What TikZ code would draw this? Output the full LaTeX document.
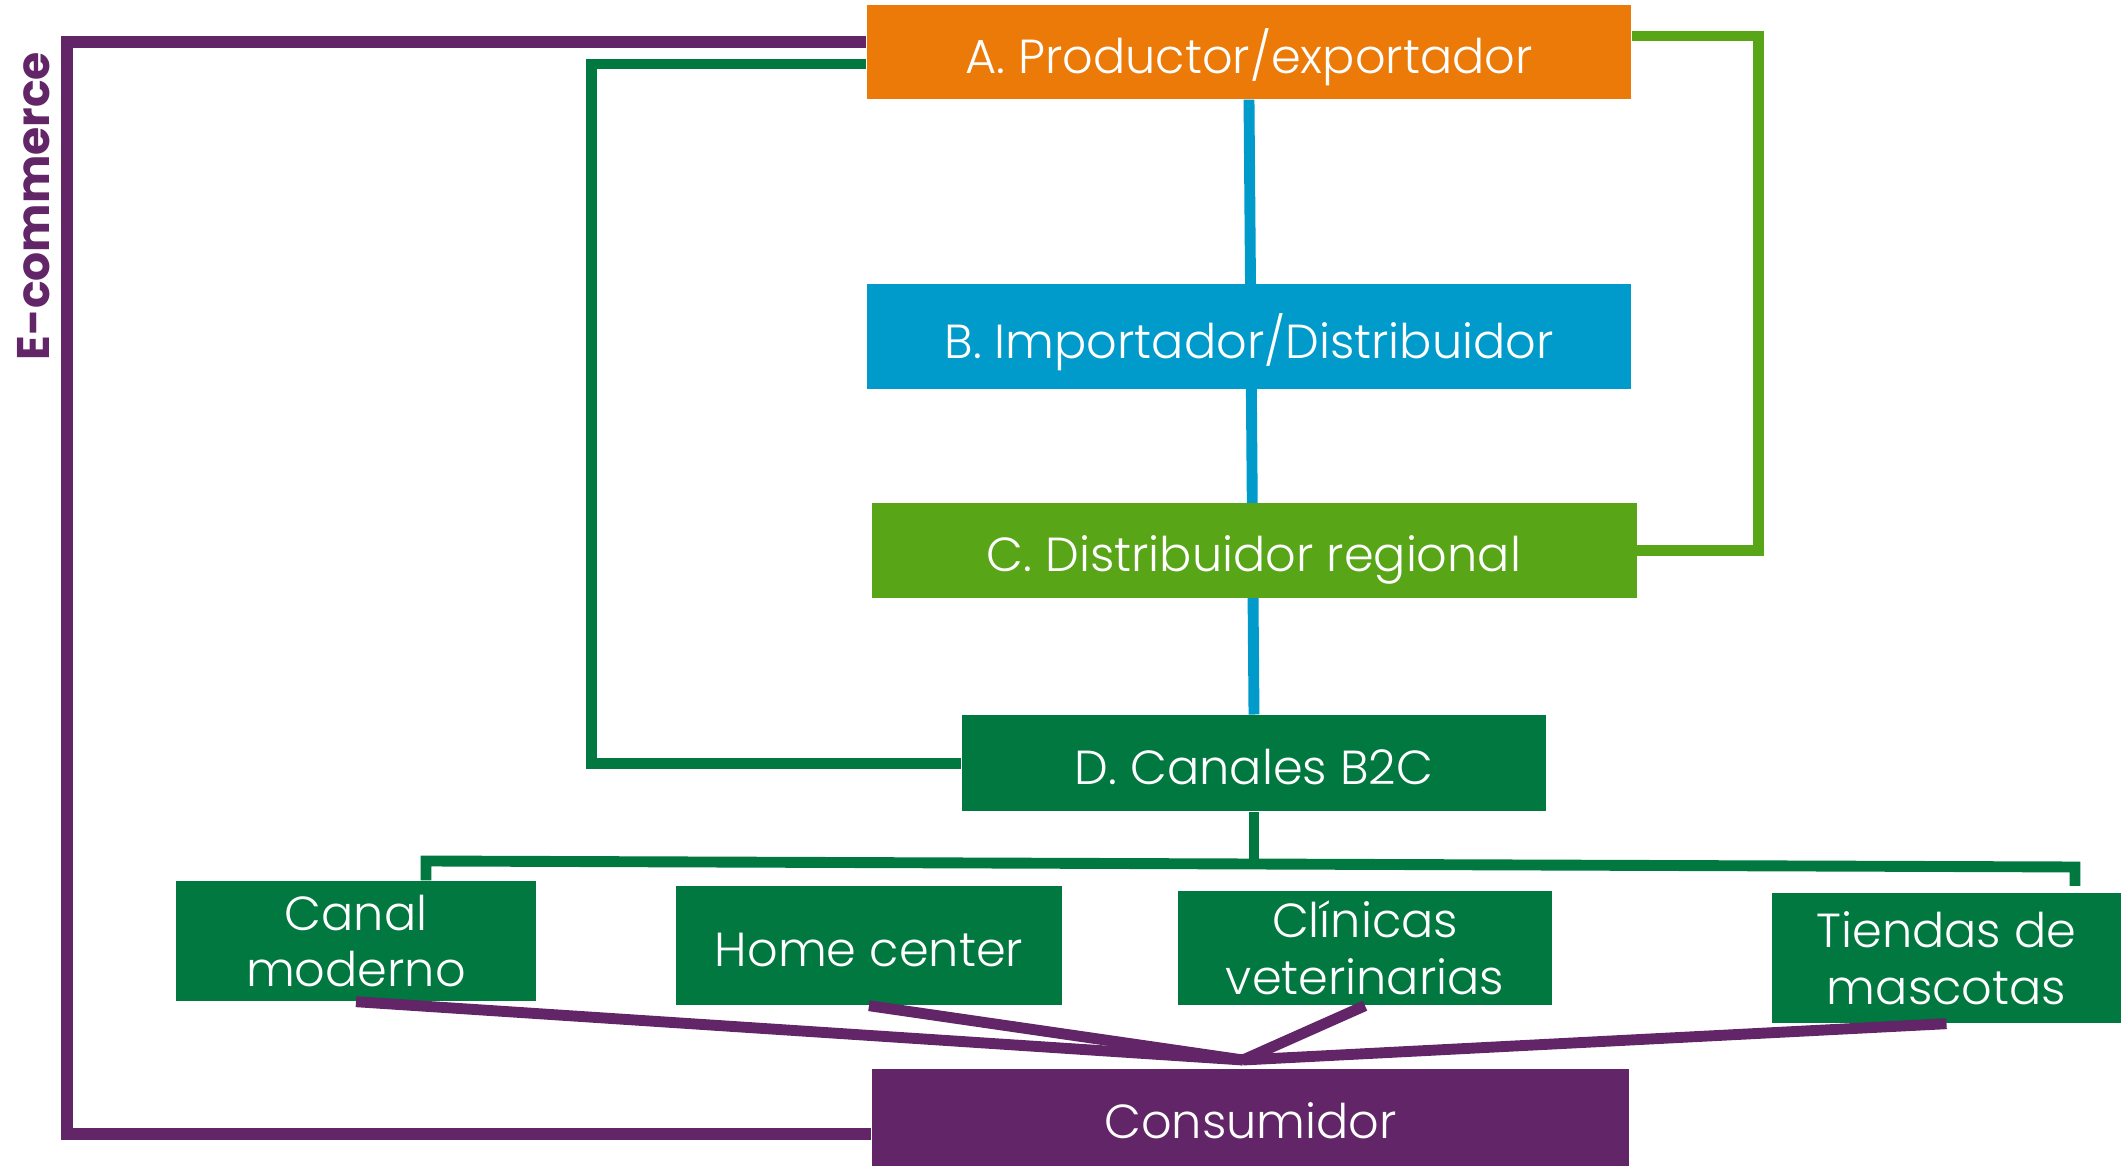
\documentclass[tikz,border=0pt]{standalone}
\usepackage{fontspec}
\setmainfont{Poppins}[UprightFont={* Light}, BoldFont={* Bold}]
\usepackage{xcolor}
\usepackage{tikz}
\usetikzlibrary{positioning,backgrounds}
\definecolor{prodOrange}{HTML}{EC7A08}
\definecolor{impBlue}{HTML}{009BCB}
\definecolor{regGreen}{HTML}{59A518}
\definecolor{chanGreen}{HTML}{00783F}
\definecolor{ecPurple}{HTML}{622567}

\begin{document}
\begin{tikzpicture}[
    node distance=1.84cm,
    font=\fontsize{13.6}{16.2}\selectfont,
    box/.style={fill=#1, text=white, inner sep=0pt, align=center},
    oneline/.style={text height=12.1pt, text depth=0pt},
    link/.style={line width=3.1pt, draw=#1}
  ]
    \useasboundingbox (0,0) rectangle (21.21,11.66);
    % main chain
    \node[box=prodOrange, oneline, minimum width=7.64cm, minimum height=0.94cm] (prod) at (12.49,11.14) {A. Productor/exportador};
    \node[box=impBlue, oneline, minimum width=7.64cm, minimum height=1.05cm, below=1.84cm of prod] (imp) {B. Importador/Distribuidor};
    \node[box=regGreen, oneline, minimum width=7.65cm, minimum height=0.95cm, below=1.12cm of imp, xshift=0.5mm] (reg) {C. Distribuidor regional};
    \node[box=chanGreen, oneline, minimum width=5.84cm, minimum height=0.96cm, below=1.16cm of reg] (b2c) {D. Canales B2C};
    % channels
    \node[box=chanGreen, minimum width=3.60cm, minimum height=1.20cm] (canal) at (3.56,2.25) {Canal\\moderno};
    \node[box=chanGreen, oneline, minimum width=3.86cm, minimum height=1.19cm] (home) at (8.69,2.205) {Home center};
    \node[box=chanGreen, minimum width=3.74cm, minimum height=1.14cm] (clin) at (13.65,2.18) {Clínicas\\veterinarias};
    \node[box=chanGreen, minimum width=3.49cm, minimum height=1.30cm] (tiendas) at (19.465,2.08) {Tiendas de\\mascotas};
    \node[box=ecPurple, oneline, minimum width=7.57cm, minimum height=0.97cm] (cons) at (12.505,0.485) {Consumidor};
    \node[rotate=90, text=ecPurple, font=\fontsize{13}{16}\selectfont\bfseries] (ecom) at (0.34,9.60) {E-commerce};

    \begin{scope}[on background layer]
      \draw[link=impBlue] (prod.south) -- (b2c.north);
    \end{scope}
    \draw[link=chanGreen] ([yshift=-1.2mm]prod.west) -- ++(-2.75,0) |- (b2c.west);
    \draw[link=regGreen] ([yshift=1.6mm]prod.east) -- ++(1.27,0) |- (reg.east);
    \draw[link=ecPurple, line width=3.3pt] ([yshift=1mm]prod.west) -- ++(-7.99,0) |- ([yshift=-1.65mm]cons.west);

    % B2C split
    \coordinate (busL) at (4.26,3.05);
    \coordinate (busR) at (20.75,2.99);
    \coordinate (hub) at (12.43,1.06);
    \draw[link=chanGreen] (b2c.south) -- ++(0,-0.57);
    \draw[link=chanGreen] (canal.north -| busL) -- (busL) -- (busR) -- ++(0,-0.19);
    \foreach \ch in {canal,home,clin,tiendas}
      \draw[link=ecPurple] (\ch.south) -- (hub);
  \end{tikzpicture}
\end{document}
